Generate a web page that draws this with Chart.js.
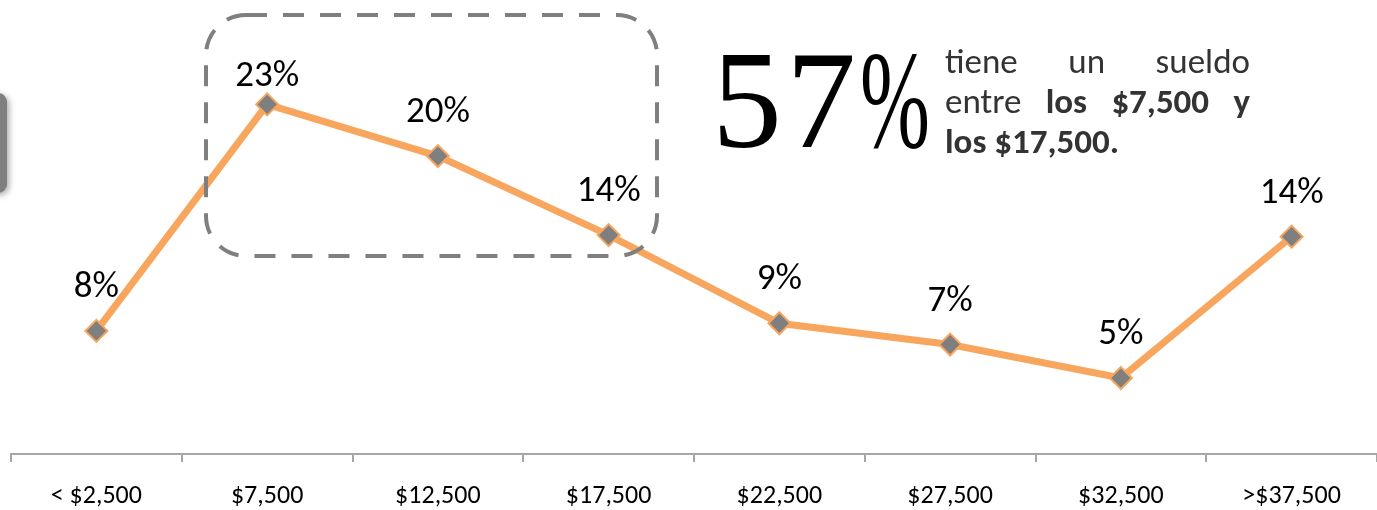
<!DOCTYPE html>
<html>
<head>
<meta charset="utf-8">
<script src="https://cdn.jsdelivr.net/npm/chart.js@4.4.0/dist/chart.umd.min.js"></script>
<style>
  html, body { margin: 0; padding: 0; background: #fff; }
  #wrap { position: relative; width: 1377px; height: 510px; overflow: hidden; }
  #big {
    position: absolute; left: 712px; top: 30px;
    font-family: "Liberation Serif", "DejaVu Serif", serif;
    font-size: 140px; line-height: 1; color: #000; white-space: nowrap;
  }
  #big .d { letter-spacing: 4px; }
  #big .p { display: inline-block; transform: scaleX(0.6); transform-origin: left center; }
  #nota {
    position: absolute; left: 945px; top: 41px; width: 305px;
    font-family: Carlito, Calibri, Lato, sans-serif;
    font-size: 35px; line-height: 40px; color: #333;
  }
  #nota .j { text-align: justify; text-align-last: justify; }
  #nota b { font-weight: 700; }
</style>
</head>
<body>
<div id="wrap">
  <canvas id="chart-sueldos"></canvas>
  <div id="big"><span class="d">57</span><span class="p">%</span></div>
  <div id="nota">
    <div class="j">tiene un sueldo</div>
    <div class="j">entre <b>los $7,500 y</b></div>
    <div><b>los $17,500.</b></div>
  </div>
</div>
<script>
// Rangos de sueldo y porcentaje de personas
const rangos = ['< $2,500', '$7,500', '$12,500', '$17,500', '$22,500', '$27,500', '$32,500', '>$37,500'];
const porcentajes = [8.1, 23.0, 19.6, 14.4, 8.6, 7.2, 5.0, 14.3];

const NARANJA = '#F8A65E';
const GRIS = '#7F7F7F';
const FUENTE = 'Carlito, Calibri, Lato, sans-serif';

// Etiquetas de datos encima de cada punto
const etiquetasPlugin = {
    id: 'etiquetas',
    afterDatasetsDraw(chart) {
        const ctx = chart.ctx;
        const meta = chart.getDatasetMeta(0);
        ctx.save();
        ctx.font = '37px ' + FUENTE;
        ctx.fillStyle = '#000';
        ctx.textAlign = 'center';
        ctx.textBaseline = 'alphabetic';
        meta.data.forEach((pt, i) => {
            const txt = Math.round(porcentajes[i]) + '%';
            const sube = i === 1 ? 18 : 34; // la del 23% va más pegada
            ctx.fillText(txt, pt.x, pt.y - sube);
        });
        ctx.restore();
    }
};

// Adornos: recuadro punteado y pestaña gris a la izquierda
const adornosPlugin = {
    id: 'adornos',
    beforeDraw(chart) {
        const ctx = chart.ctx;
        ctx.save();
        ctx.shadowColor = 'rgba(0,0,0,0.35)';
        ctx.shadowBlur = 6;
        ctx.shadowOffsetX = 2;
        ctx.shadowOffsetY = 2;
        ctx.fillStyle = GRIS;
        ctx.beginPath();
        ctx.roundRect(-12, 93, 19, 100, 9);
        ctx.fill();
        ctx.restore();
    },
    afterDraw(chart) {
        const ctx = chart.ctx;
        ctx.save();
        ctx.strokeStyle = GRIS;
        ctx.lineWidth = 4;
        ctx.setLineDash([21, 16]);
        ctx.beginPath();
        ctx.roundRect(206, 15, 451, 241, 40);
        ctx.stroke();
        ctx.restore();
    }
};

let charts = {};

function renderSueldos() {
    const ctx = document.getElementById('chart-sueldos').getContext('2d');
    if (charts.sueldos) charts.sueldos.destroy();

    charts.sueldos = new Chart(ctx, {
        type: 'line',
        data: {
            labels: rangos,
            datasets: [{
                data: porcentajes,
                borderColor: NARANJA,
                borderWidth: 7,
                tension: 0,
                pointStyle: 'rectRot',
                pointRadius: 11,
                pointBackgroundColor: GRIS,
                pointBorderColor: NARANJA,
                pointBorderWidth: 2
            }]
        },
        options: {
            responsive: true,
            maintainAspectRatio: false,
            animation: false,
            layout: { autoPadding: false, padding: { left: 11, top: 74, right: 0, bottom: 0 } },
            plugins: { legend: { display: false }, tooltip: { enabled: false } },
            scales: {
                x: {
                    offset: true,
                    afterFit(scale) {
                        scale.height = 56;
                        scale.paddingLeft = 0;
                        scale.paddingRight = 0;
                    },
                    border: { display: true, color: '#A6A6A6', width: 2 },
                    grid: {
                        display: true,
                        offset: true,
                        drawOnChartArea: false,
                        drawTicks: true,
                        tickLength: 8,
                        color: '#A6A6A6',
                        lineWidth: 2
                    },
                    ticks: {
                        color: '#000',
                        padding: 19,
                        maxRotation: 0,
                        autoSkip: false,
                        font: { family: FUENTE, size: 26 }
                    }
                },
                y: {
                    display: false,
                    min: 0,
                    max: 25
                }
            }
        },
        plugins: [etiquetasPlugin, adornosPlugin]
    });
}

renderSueldos();
</script>
</body>
</html>
